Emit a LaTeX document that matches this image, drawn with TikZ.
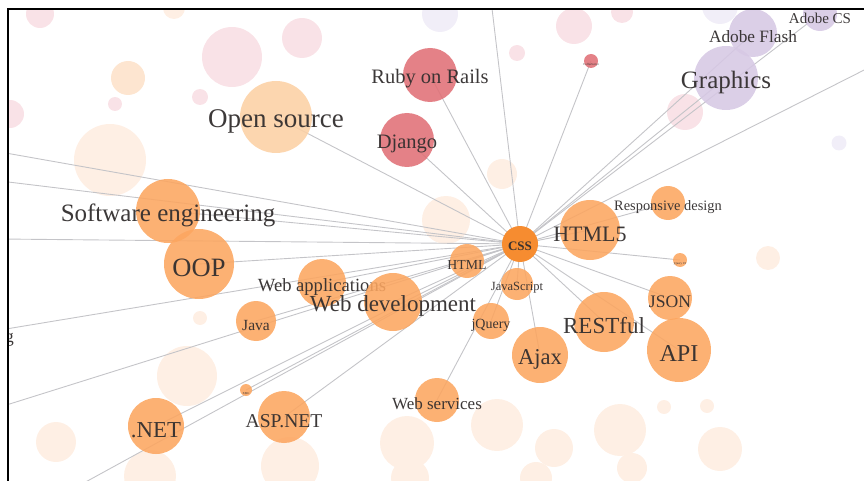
\documentclass[tikz,border=0pt]{standalone}
\usepackage{fontspec}
\setmainfont{Liberation Serif}
\usetikzlibrary{backgrounds}

\definecolor{cssorange}{RGB}{246,140,48}
\definecolor{tagorange}{RGB}{252,166,96}
\definecolor{osorange}{RGB}{252,208,164}
\definecolor{tagred}{RGB}{224,112,118}
\definecolor{tagpurple}{RGB}{214,200,228}
\definecolor{fadepeach}{RGB}{254,239,228}
\definecolor{fadepeachb}{RGB}{253,229,208}
\definecolor{fadepink}{RGB}{249,226,231}
\definecolor{fadelav}{RGB}{241,238,248}
\definecolor{linkgray}{RGB}{196,196,200}
\definecolor{labelgray}{RGB}{50,46,46}

\newcommand{\fsz}[1]{\fontsize{#1}{#1}\selectfont}

\begin{document}
\begin{tikzpicture}[x=1pt, y=-1pt,
    tag/.style={circle, inner sep=0pt, draw=none, fill=tagorange, fill opacity=0.88},
    redtag/.style={tag, fill=tagred},
    purpletag/.style={tag, fill=tagpurple},
    faded/.style={circle, inner sep=0pt, draw=none},
    link/.style={draw=linkgray, line width=0.9pt},
    lab/.style={text=labelgray, inner sep=0pt, fill opacity=1, text opacity=0.95, yshift=-4pt},
    frame/.style={line width=2pt, black}]

    \useasboundingbox (0,0) rectangle (864,481);

    \begin{scope}
        \clip (8,9) rectangle (864,481);

        % tags
        \node[tag, fill=osorange, minimum size=72, label={[lab, font=\fsz{27}]center:Open source}] (opensrc) at (276,117) {};
        \node[redtag, minimum size=54, label={[lab, font=\fsz{20.5}]center:Ruby on Rails}] (rails) at (430,75) {};
        \node[redtag, minimum size=54, label={[lab, font=\fsz{20.5}]center:Django}] (django) at (407,140) {};
        \node[redtag, minimum size=14, label={[lab, font=\fsz{3}]center:CoffeeScript}] (coffee) at (591,61) {};
        \node[purpletag, minimum size=34, label={[lab, font=\fsz{15}]center:Adobe CS}] (adobecs) at (820,14) {};
        \node[purpletag, minimum size=48, label={[lab, font=\fsz{17.3}]center:Adobe Flash}] (flash) at (753,33) {};
        \node[purpletag, minimum size=64, label={[lab, font=\fsz{25}]center:Graphics}] (graphics) at (726,78) {};
        \node[tag, minimum size=64, label={[lab, font=\fsz{25}]center:Software engineering}] (seng) at (168,211) {};
        \node[tag, minimum size=70, label={[lab, font=\fsz{26.5}]center:OOP}] (oop) at (199,264) {};
        \node[tag, minimum size=48, label={[lab, font=\fsz{18.6}]center:Web applications}] (webapp) at (322,283) {};
        \node[tag, minimum size=40, label={[lab, font=\fsz{15.5}]center:Java}] (java) at (256,321) {};
        \node[tag, minimum size=58, label={[lab, font=\fsz{23}]center:Web development}] (webdev) at (393,302) {};
        \node[tag, minimum size=34, label={[lab, font=\fsz{13.8}]center:HTML}] (html) at (467,261) {};
        \node[tag, minimum size=32, label={[lab, font=\fsz{12.5}]center:JavaScript}] (js) at (517,284) {};
        \node[tag, minimum size=36, label={[lab, font=\fsz{14}]center:jQuery}] (jquery) at (491,321) {};
        \node[tag, minimum size=44, label={[lab, font=\fsz{17}]center:Web services}] (websvc) at (437,400) {};
        \node[tag, minimum size=56, label={[lab, font=\fsz{22.8}]center:.NET}] (dotnet) at (156,426) {};
        \node[tag, minimum size=12, label={[lab, font=\fsz{3}]center:XML}] (xml) at (246,390) {};
        \node[tag, minimum size=52, label={[lab, font=\fsz{19.6}]center:ASP.NET}] (aspnet) at (284,417) {};
        \node[tag, minimum size=60, label={[lab, font=\fsz{22}]center:HTML5}] (html5) at (590,230) {};
        \node[tag, minimum size=34, label={[lab, font=\fsz{14.4}]center:Responsive design}] (resp) at (668,203) {};
        \node[tag, minimum size=14, label={[lab, font=\fsz{3}]center:jQuery UI}] (jqui) at (680,260) {};
        \node[tag, minimum size=44, label={[lab, font=\fsz{17.6}]center:JSON}] (json) at (670,298) {};
        \node[tag, minimum size=60, label={[lab, font=\fsz{23}]center:RESTful}] (restful) at (604,322) {};
        \node[tag, minimum size=64, label={[lab, font=\fsz{24.2}]center:API}] (api) at (679,350) {};
        \node[tag, minimum size=56, label={[lab, font=\fsz{22.6}]center:Ajax}] (ajax) at (540,355) {};
        \node[tag, fill=cssorange, fill opacity=1, minimum size=36, label={[lab, yshift=2pt, font=\bfseries\fsz{13}]center:CSS}] (css) at (520,244) {};

        % label of a tag outside the view
        \node[lab, font=\fsz{18}, anchor=east] (gtail) at (14,336) {g};

        % ends of links outside the view
        \coordinate (t1) at (491,0);
        \coordinate (e1) at (880,62);
        \coordinate (l1) at (0,152);
        \coordinate (l2) at (0,181);
        \coordinate (l3) at (0,239);
        \coordinate (l4) at (0,330);
        \coordinate (l5) at (0,407);
        \coordinate (b1) at (71,490);
    \end{scope}

    % faded tags
    \begin{scope}[on background layer]
        \clip (8,9) rectangle (864,481);
        \foreach \x/\y/\d/\c [count=\i] in {
            40/14/28/fadepink, 174/8/22/fadepeach, 232/57/60/fadepink, 302/38/40/fadepink,
            128/78/34/fadepeachb, 115/104/14/fadepink, 200/97/16/fadepink, 10/114/28/fadepink,
            110/160/72/fadepeach, 440/14/36/fadelav, 517/53/16/fadepink, 574/26/36/fadepink,
            622/12/22/fadepink, 720/6/36/fadelav, 685/112/36/fadepink, 839/143/15/fadelav,
            502/174/30/fadepeach, 446/220/48/fadepeach, 768/258/24/fadepeach, 200/318/14/fadepeach,
            187/376/60/fadepeach, 56/442/40/fadepeach, 150/476/52/fadepeach, 290/466/58/fadepeach,
            407/443/54/fadepeach, 497/425/52/fadepeach, 554/448/38/fadepeach, 410/478/38/fadepeach,
            536/478/32/fadepeach, 620/430/52/fadepeach, 632/468/30/fadepeach, 664/407/14/fadepeach,
            707/406/14/fadepeach, 720/449/44/fadepeach}
            \node[faded, fill=\c, minimum size=\d] (bg\i) at (\x,\y) {};
    \end{scope}

    % links of CSS
    \begin{scope}[on background layer]
        \clip (8,9) rectangle (864,481);
        \foreach \t in {rails,django,coffee,graphics,flash,adobecs,opensrc,seng,oop,webapp,webdev,java,dotnet,aspnet,xml,websvc,jquery,js,html,html5,resp,jqui,json,api,restful,ajax,t1,e1,l1,l2,l3,l4,l5,b1}
            \draw[link] (css.center) -- (\t.center);
    \end{scope}

    \draw[frame] (864,9) -- (8,9) -- (8,481);
\end{tikzpicture}
\end{document}
